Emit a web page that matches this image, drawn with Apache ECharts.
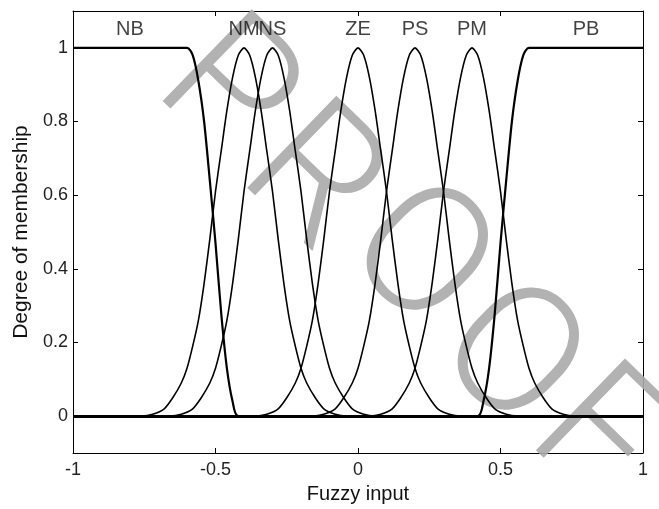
<!DOCTYPE html>
<html>
<head>
<meta charset="utf-8">
<title>Membership functions</title>
<script src="https://cdn.jsdelivr.net/npm/echarts@6.0.0/dist/echarts.min.js"></script>
<style>
  html, body { margin: 0; padding: 0; background: #fff; }
  #main { width: 659px; height: 509px; }
</style>
</head>
<body>
<div id="main"></div>
<script>
// membership functions, [x, degree]
var mfNames = ['NB', 'NM', 'NS', 'ZE', 'PS', 'PM', 'PB'];
var labelX = [-0.8, -0.4, -0.3, 0, 0.2, 0.4, 0.8];
var yTicks = [0, 0.2, 0.4, 0.6, 0.8, 1];

var NB = [[-1,1],[-0.6,1],[-0.58,0.98],[-0.56,0.91],[-0.54,0.8],[-0.52,0.64],[-0.5,0.47],[-0.48,0.28],[-0.46,0.13],[-0.44,0.04],[-0.42,0],[1,0]];
var NM = [[-1,0],[-0.76,0],[-0.72,0.005],[-0.68,0.02],[-0.65,0.05],[-0.62,0.09],[-0.6,0.13],[-0.58,0.19],[-0.56,0.26],[-0.54,0.36],[-0.52,0.48],[-0.5,0.61],[-0.48,0.72],[-0.46,0.83],[-0.44,0.92],[-0.42,0.98],[-0.4,1],[-0.38,0.98],[-0.36,0.92],[-0.34,0.83],[-0.32,0.72],[-0.3,0.61],[-0.28,0.48],[-0.26,0.36],[-0.24,0.26],[-0.22,0.19],[-0.2,0.13],[-0.18,0.09],[-0.15,0.05],[-0.12,0.02],[-0.08,0.005],[-0.04,0],[1,0]];
var NS = [[-1,0],[-0.66,0],[-0.62,0.005],[-0.58,0.02],[-0.55,0.05],[-0.52,0.09],[-0.5,0.13],[-0.48,0.19],[-0.46,0.26],[-0.44,0.36],[-0.42,0.48],[-0.4,0.61],[-0.38,0.72],[-0.36,0.83],[-0.34,0.92],[-0.32,0.98],[-0.3,1],[-0.28,0.98],[-0.26,0.92],[-0.24,0.83],[-0.22,0.72],[-0.2,0.61],[-0.18,0.48],[-0.16,0.36],[-0.14,0.26],[-0.12,0.19],[-0.1,0.13],[-0.08,0.09],[-0.05,0.05],[-0.02,0.02],[0.02,0.005],[0.06,0],[1,0]];
var ZE = [[-1,0],[-0.36,0],[-0.32,0.005],[-0.28,0.02],[-0.25,0.05],[-0.22,0.09],[-0.2,0.13],[-0.18,0.19],[-0.16,0.26],[-0.14,0.36],[-0.12,0.48],[-0.1,0.61],[-0.08,0.72],[-0.06,0.83],[-0.04,0.92],[-0.02,0.98],[0,1],[0.02,0.98],[0.04,0.92],[0.06,0.83],[0.08,0.72],[0.1,0.61],[0.12,0.48],[0.14,0.36],[0.16,0.26],[0.18,0.19],[0.2,0.13],[0.22,0.09],[0.25,0.05],[0.28,0.02],[0.32,0.005],[0.36,0],[1,0]];
var PS = [[-1,0],[-0.16,0],[-0.12,0.005],[-0.08,0.02],[-0.05,0.05],[-0.02,0.09],[0,0.13],[0.02,0.19],[0.04,0.26],[0.06,0.36],[0.08,0.48],[0.1,0.61],[0.12,0.72],[0.14,0.83],[0.16,0.92],[0.18,0.98],[0.2,1],[0.22,0.98],[0.24,0.92],[0.26,0.83],[0.28,0.72],[0.3,0.61],[0.32,0.48],[0.34,0.36],[0.36,0.26],[0.38,0.19],[0.4,0.13],[0.42,0.09],[0.45,0.05],[0.48,0.02],[0.52,0.005],[0.56,0],[1,0]];
var PM = [[-1,0],[0.04,0],[0.08,0.005],[0.12,0.02],[0.15,0.05],[0.18,0.09],[0.2,0.13],[0.22,0.19],[0.24,0.26],[0.26,0.36],[0.28,0.48],[0.3,0.61],[0.32,0.72],[0.34,0.83],[0.36,0.92],[0.38,0.98],[0.4,1],[0.42,0.98],[0.44,0.92],[0.46,0.83],[0.48,0.72],[0.5,0.61],[0.52,0.48],[0.54,0.36],[0.56,0.26],[0.58,0.19],[0.6,0.13],[0.62,0.09],[0.65,0.05],[0.68,0.02],[0.72,0.005],[0.76,0],[1,0]];
var PB = [[-1,0],[0.42,0],[0.44,0.04],[0.46,0.13],[0.48,0.28],[0.5,0.47],[0.52,0.64],[0.54,0.8],[0.56,0.91],[0.58,0.98],[0.6,1],[1,1]];

var mfData = [NB, NM, NS, ZE, PS, PM, PB];

// watermark letters, drawn one by one along the diagonal
var stampText = ['P', 'R', 'O', 'O', 'F'];
var stampPos = [[222, 96], [308, 184], [414, 262], [505, 362], [592, 442]];

var myChart = echarts.init(document.getElementById('main'));
var font = 'Liberation Sans, Arial, sans-serif';

var series = mfData.map(function (d, i) {
    var edge = (i === 0 || i === 6);
    return {
        name: mfNames[i],
        type: 'line',
        data: d,
        smooth: 0.25,
        symbol: 'none',
        z: 3,
        lineStyle: { color: '#000', width: edge ? 2.2 : 1.6 }
    };
});
// thick zero line where all tails overlap
series[0].markLine = {
    silent: true,
    symbol: 'none',
    label: { show: false },
    lineStyle: { color: '#000', width: 3, type: 'solid' },
    data: [{ yAxis: 0 }]
};
// mf names along the top
series.push({
    type: 'scatter',
    symbolSize: 0,
    data: labelX.map(function (x, i) { return { value: [x, 1.05], name: mfNames[i] }; }),
    label: {
        show: true,
        position: 'inside',
        formatter: '{b}',
        color: '#111',
        fontSize: 20,
        fontFamily: font
    },
    z: 4
});

var lineStyle = { show: true, onZero: false, lineStyle: { color: '#000', width: 1 } };

option = {
    backgroundColor: '#fff',
    animation: false,
    grid: { left: 73, right: 16, top: 11, bottom: 56, show: false },
    xAxis: [{
        type: 'value',
        min: -1, max: 1, interval: 0.5,
        name: 'Fuzzy input',
        nameLocation: 'middle',
        nameGap: 31,
        nameTextStyle: { color: '#111', fontSize: 20, fontFamily: font },
        axisLine: lineStyle,
        axisTick: { show: true, inside: true, length: 5, lineStyle: { color: '#000' } },
        axisLabel: { color: '#222', fontSize: 18, fontFamily: font, margin: 8 },
        splitLine: { show: false }
    }, {
        type: 'value', position: 'top',
        min: -1, max: 1, interval: 0.5,
        axisLine: lineStyle,
        axisTick: { show: true, inside: true, length: 5, lineStyle: { color: '#000' } },
        axisLabel: { show: false },
        splitLine: { show: false }
    }],
    yAxis: [{
        type: 'value',
        min: -0.1, max: 1.1,
        name: 'Degree of membership',
        nameLocation: 'middle',
        nameGap: 41,
        nameTextStyle: { color: '#111', fontSize: 21, fontFamily: font },
        axisLine: lineStyle,
        axisTick: { show: true, inside: true, length: 5, customValues: yTicks, lineStyle: { color: '#000' } },
        axisLabel: { color: '#222', fontSize: 18, fontFamily: font, margin: 5, customValues: yTicks },
        splitLine: { show: false }
    }, {
        type: 'value', position: 'right',
        min: -0.1, max: 1.1,
        axisLine: lineStyle,
        axisTick: { show: true, inside: true, length: 5, customValues: yTicks, lineStyle: { color: '#000' } },
        axisLabel: { show: false },
        splitLine: { show: false }
    }],
    graphic: stampText.map(function (ch, i) {
        return {
            type: 'text',
            x: stampPos[i][0], y: stampPos[i][1],
            rotation: -0.77,
            z: 1,
            silent: true,
            style: {
                text: ch,
                fontSize: 180,
                fontFamily: 'Roboto, Lato, sans-serif',
                fontWeight: 300,
                fill: 'rgba(170,170,170,0.9)',
                textAlign: 'center',
                textVerticalAlign: 'middle'
            }
        };
    }),
    series: series
};

myChart.setOption(option);
</script>
</body>
</html>
